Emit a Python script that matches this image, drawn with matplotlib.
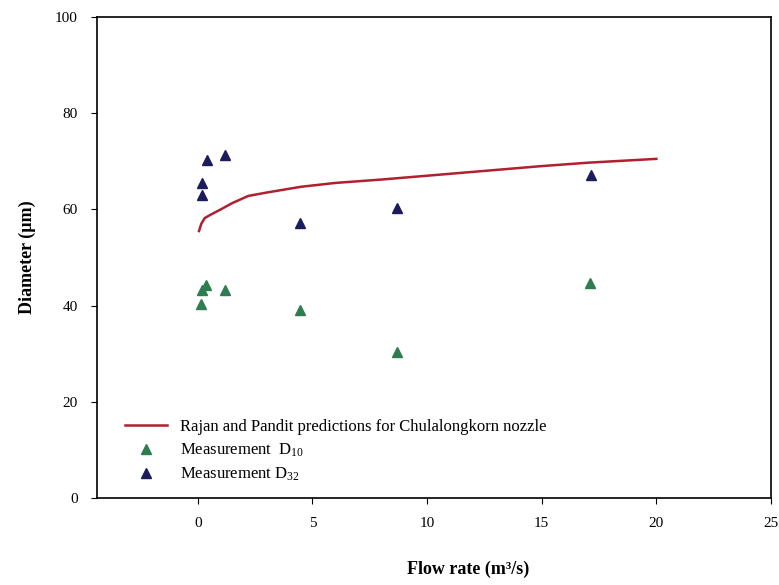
import matplotlib
matplotlib.use("Agg")
import matplotlib.pyplot as plt

plt.rcParams['font.family'] = ['Liberation Serif', 'DejaVu Serif']
plt.rcParams['mathtext.fontset'] = 'custom'
plt.rcParams['mathtext.rm'] = 'Liberation Serif'
plt.rcParams['mathtext.it'] = 'Liberation Serif:italic'
plt.rcParams['mathtext.bf'] = 'Liberation Serif:bold'

# Prediction curve (Rajan and Pandit)
curve_x = [0.05, 0.15, 0.3, 0.6, 1.0, 1.5, 2.2, 3.0, 4.5, 6.0, 8.0, 10.0, 12.0, 15.0, 17.0, 20.0]
curve_y = [55.5, 57.0, 58.2, 59.0, 60.0, 61.3, 62.8, 63.5, 64.7, 65.5, 66.2, 67.0, 67.8, 69.0, 69.7, 70.5]

# Measurement D10
d10_x = [0.13, 0.16, 0.35, 1.18, 4.47, 8.68, 17.1]
d10_y = [40.3, 43.2, 44.3, 43.2, 39.0, 30.4, 44.8]

# Measurement D32
d32_x = [0.16, 0.2, 0.38, 1.18, 4.47, 8.68, 17.15]
d32_y = [63.0, 65.5, 70.3, 71.4, 57.2, 60.3, 67.2]

xticks = [0, 5, 10, 15, 20, 25]
yticks = [0, 20, 40, 60, 80, 100]

fig = plt.figure(figsize=(7.79, 5.85), dpi=100)
ax = fig.add_axes([0.1245, 0.1487, 0.8652, 0.8223])

ax.plot(curve_x, curve_y, color='#b0202e', lw=1.8,
        label='Rajan and Pandit predictions for Chulalongkorn nozzle')
ax.plot(d10_x, d10_y, linestyle='none', marker='^', ms=7, color='#2e7d4f',
        label='Measurement  D$_{10}$')
ax.plot(d32_x, d32_y, linestyle='none', marker='^', ms=7, color='#1c1c5c',
        label='Measurement D$_{32}$')

ax.set_xlim(-4.4, 25)
ax.set_ylim(0, 100)
ax.set_xticks(xticks)
ax.set_yticks(yticks)
ax.tick_params(direction='out', length=4, labelsize=11, pad=10)
for s in ax.spines.values():
    s.set_linewidth(1.2)

ax.set_ylabel('Diameter (µm)', fontsize=13, fontweight='bold')
ax.yaxis.set_label_coords(-0.09, 0.5)
ax.set_xlabel('Flow rate (m³/s)', fontsize=13, fontweight='bold')
ax.xaxis.set_label_coords(0.55, -0.13)

ax.legend(loc='lower left', bbox_to_anchor=(0.02, 0.0), frameon=False,
          fontsize=12, handlelength=2.5, labelspacing=0.4)

fig.savefig('out.png', dpi=100)
